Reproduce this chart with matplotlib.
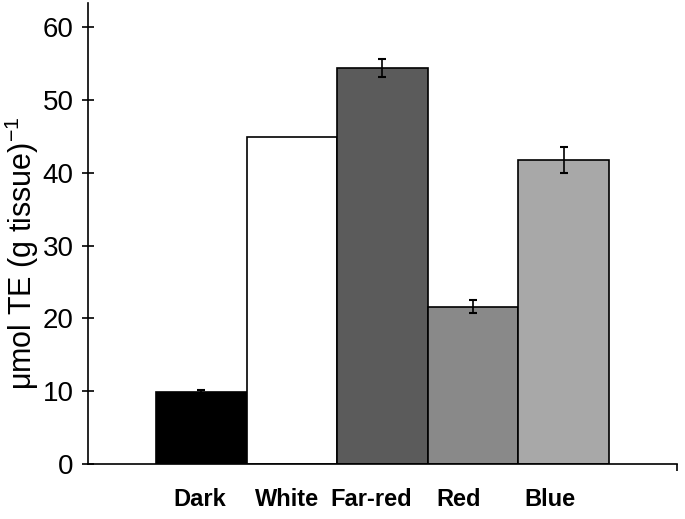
import numpy as np
import matplotlib
matplotlib.use('Agg')
import matplotlib.pyplot as plt

# Data
categories = ['Dark', 'White', 'Far-red', 'Red', 'Blue']
values = [9.9, 44.9, 54.4, 21.6, 41.7]
errors = [0.2, 0.0, 1.2, 0.9, 1.8]
colors = ['#000000', '#ffffff', '#5b5b5b', '#898989', '#a8a8a8']
# labels in the original sit a little left of the bar centres
label_shift = [0.02, 0.055, 0.12, 0.155, 0.155]

plt.rcParams['font.family'] = ['Liberation Sans', 'DejaVu Sans']
plt.rcParams['mathtext.fontset'] = 'custom'
plt.rcParams['mathtext.rm'] = 'Liberation Sans'
plt.rcParams['mathtext.default'] = 'regular'

fig = plt.figure(figsize=(6.85, 5.19), dpi=100)
ax = fig.add_axes([0.1285, 0.106, 0.8595, 0.888])

x = np.arange(len(categories))
ax.bar(x, values, width=1.0, color=colors, edgecolor='black', linewidth=1.2, zorder=2)
err_x = [xi for xi, e in zip(x, errors) if e > 0]
err_y = [v for v, e in zip(values, errors) if e > 0]
err_e = [e for e in errors if e > 0]
ax.errorbar(err_x, err_y, yerr=err_e, fmt='none', ecolor='black',
            elinewidth=1.2, capsize=3, capthick=1.5, zorder=3)

ax.set_xlim(-1.25, 5.25)
ax.set_ylim(0, 63.3)
ax.set_yticks(np.arange(0, 61, 10))
ax.tick_params(axis='y', direction='inout', length=9, width=1.2, labelsize=20, pad=6)

ax.set_xticks(x - np.array(label_shift))
ax.set_xticklabels(categories, fontsize=17, fontweight='bold')
ax.tick_params(axis='x', length=0, pad=17)
# small tick at the right end of the x axis
ax.set_xticks([5.25], minor=True)
ax.tick_params(axis='x', which='minor', direction='out', length=5, width=1.2)

ax.spines['top'].set_visible(False)
ax.spines['right'].set_visible(False)
ax.spines['left'].set_linewidth(1.2)
ax.spines['bottom'].set_linewidth(1.2)

ax.set_ylabel('μmol TE (g tissue)$^{-1}$', fontsize=22)
ax.yaxis.set_label_coords(-0.08, 0.458)

fig.savefig('out.png', dpi=100)
